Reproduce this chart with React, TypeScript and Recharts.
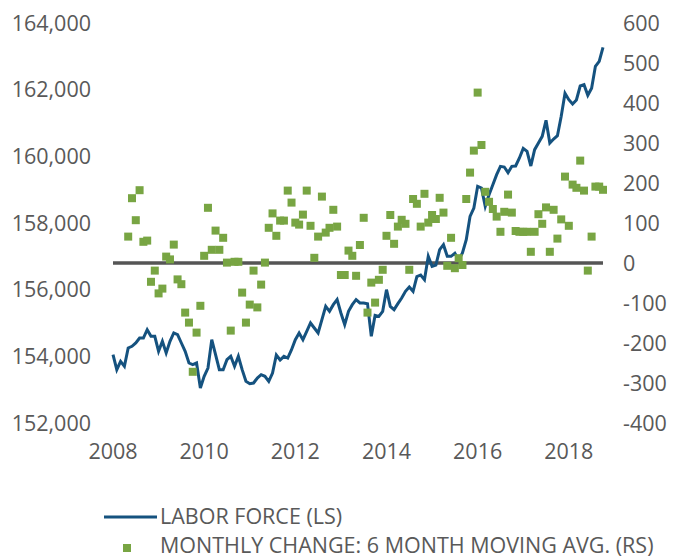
import { ComposedChart, Line, Scatter, XAxis, YAxis, ReferenceLine, Legend } from 'recharts'

// labor force, thousands, monthly from Jan 2008
const laborForce = [
  154050, 153600, 153850, 153700, 154250, 154300, 154400, 154550, 154550, 154800,
  154600, 154600, 154150, 154450, 154100, 154450, 154700, 154650, 154400, 154150,
  153800, 153750, 153800, 153050, 153400, 153650, 154500, 154050, 153600, 153600,
  153900, 154000, 153700, 154000, 153600, 153250, 153180, 153200, 153350, 153450,
  153400, 153250, 153500, 154040, 153890, 154000, 153950, 154200, 154500, 154700,
  154500, 154750, 155000, 154850, 154700, 155100, 155500, 155350, 155550, 155700,
  155300, 154950, 155350, 155550, 155700, 155600, 155600, 155580, 154600, 155230,
  155200, 155350, 156000, 155500, 155400, 155580, 155750, 155950, 156080, 155950,
  156390, 156440, 156300, 157000, 156700, 156740, 157200, 157350, 157000, 157000,
  157090, 156900, 157100, 157500, 158200, 158450, 159100, 159050, 158500, 158850,
  159150, 159450, 159700, 159680, 159510, 159700, 159710, 159950, 160240, 160150,
  159710, 160200, 160400, 160600, 161080, 160400, 160520, 160620, 161200, 161890,
  161700, 161570, 161690, 162110, 162150, 161830, 162040, 162700, 162850, 163270,
]

// 6 month moving avg of monthly change, starts at month index 4
const changeStart = 4
const monthlyChange = [
  66, 162, 107, 182, 53, 56, -47, -19, -76, -64,
  16, 9, 46, -41, -53, -124, -149, -272, -174, -107,
  18, 138, 33, 81, 33, 63, 1, -169, 3, 3,
  -74, -149, -104, -19, -111, -54, 1, 88, 124, 68,
  106, 106, 181, 151, 101, 96, 121, 181, 93, 13,
  66, 166, 76, 88, 133, 91, -30, -30, 31, 18,
  -32, 45, 113, -124, -49, -99, -42, -17, 68, 120,
  48, 91, 108, 98, -17, 160, 148, 91, 173, 101,
  120, 110, 163, 126, -7, 63, -13, 12, -5, 160,
  226, 281, 426, 295, 178, 153, 135, 116, 78, 128,
  171, 126, 80, 78, 78, 78, 28, 78, 122, 98,
  139, 28, 133, 61, 109, 216, 93, 196, 188, 256,
  181, -19, 66, 191, 191, 183,
]

const startYear = 2008
const yearTicks = [0, 24, 48, 72, 96, 120]
const leftTicks = [152000, 154000, 156000, 158000, 160000, 162000, 164000]
const rightTicks = [-400, -300, -200, -100, 0, 100, 200, 300, 400, 500, 600]

const lineData = laborForce.map((v, i) => ({ m: i, lf: v }))
const scatterData = monthlyChange.map((v, i) => ({ m: i + changeStart, chg: v }))

const BLUE = '#15527f'
const GREEN = '#78a543'
const GRAY = '#595959'
const FONT = '"Open Sans", sans-serif'

const tickStyle = { fill: GRAY, fontSize: 21.5, fontFamily: FONT }

const Square = (props: any) => {
  const { cx, cy } = props
  if (cx == null || cy == null) return null
  return <rect x={cx - 4} y={cy - 4} width={8} height={8} fill={GREEN} />
}

const LegendBox = () => (
  <div style={{ position: 'relative', width: 686, height: 90, fontFamily: FONT, fontSize: 21.5, lineHeight: '16px', color: GRAY }}>
    <svg width={686} height={90} style={{ position: 'absolute', left: 0, top: 0 }}>
      <line x1={104} y1={49} x2={157} y2={49} stroke={BLUE} strokeWidth={3} />
      <rect x={123} y={76} width={8} height={8} fill={GREEN} />
    </svg>
    <span style={{ position: 'absolute', left: 160, top: 40, whiteSpace: 'nowrap' }}>LABOR FORCE (LS)</span>
    <span style={{ position: 'absolute', left: 160, top: 69, whiteSpace: 'nowrap' }}>
      MONTHLY CHANGE: 6 MONTH MOVING AVG. (RS)
    </span>
  </div>
)

export default function App() {
  return (
    <div style={{ position: 'absolute', left: 0, top: 0, width: 686, height: 558, background: '#fff' }}>
      <ComposedChart
        width={686}
        height={558}
        data={lineData}
        margin={{ top: 23, right: 0, bottom: 0, left: 0 }}
      >
        <XAxis
          dataKey="m"
          type="number"
          domain={[0, laborForce.length - 1]}
          ticks={yearTicks}
          tickFormatter={(m: number) => String(startYear + m / 12)}
          axisLine={false}
          tickLine={false}
          tickMargin={15}
          height={45}
          tick={tickStyle}
        />
        <YAxis
          yAxisId="left"
          orientation="left"
          domain={[152000, 164000]}
          ticks={leftTicks}
          tickFormatter={(v: number) => v.toLocaleString('en-US')}
          axisLine={false}
          tickLine={false}
          tickMargin={16}
          width={113}
          tick={tickStyle}
          interval={0}
        />
        <YAxis
          yAxisId="right"
          orientation="right"
          domain={[-400, 600]}
          ticks={rightTicks}
          axisLine={false}
          tickLine={false}
          tickMargin={14}
          width={83}
          tick={{ ...tickStyle, textAnchor: 'start' }}
          interval={0}
        />
        <ReferenceLine yAxisId="right" y={0} stroke="#555555" strokeWidth={3.5} />
        <Line
          yAxisId="left"
          dataKey="lf"
          stroke={BLUE}
          strokeWidth={3}
          dot={false}
          type="linear"
          isAnimationActive={false}
        />
        <Scatter
          yAxisId="right"
          data={scatterData}
          dataKey="chg"
          fill={GREEN}
          shape={Square}
          isAnimationActive={false}
        />
        <Legend verticalAlign="bottom" content={() => <LegendBox />} wrapperStyle={{ left: 0, width: 686 }} />
      </ComposedChart>
    </div>
  )
}
